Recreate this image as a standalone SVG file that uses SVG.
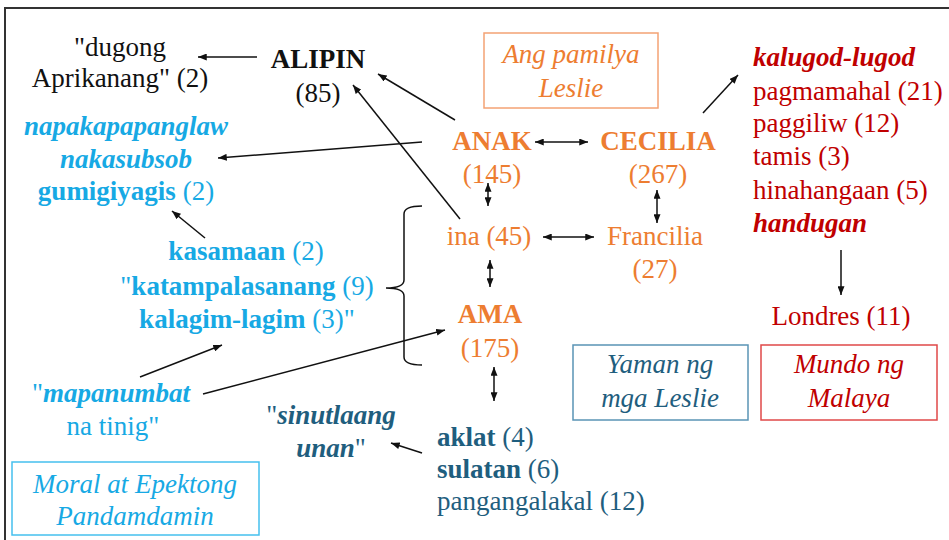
<svg xmlns="http://www.w3.org/2000/svg" width="949" height="540" viewBox="0 0 949 540">
<style>
text{font-family:'Liberation Serif',serif;font-size:27px}
.c{text-anchor:middle}
.w{font-weight:bold}
.it{font-style:italic}
.blk{fill:#111}
.cy{fill:#17A9E4}
.or{fill:#ED7D31}
.rd{fill:#C00000}
.tl{fill:#1F5E7E}
.con path{fill:none;stroke:#111;stroke-width:1.5}
.one{marker-end:url(#ah)}
.two{marker-end:url(#ah);marker-start:url(#ah)}
</style>
<defs>
<marker id="ah" viewBox="0 0 10 8" refX="10" refY="4" markerWidth="9" markerHeight="7" markerUnits="userSpaceOnUse" orient="auto-start-reverse">
<path d="M0,0 L10,4 L0,8 z" fill="#111"/>
</marker>
</defs>
<rect x="0" y="0" width="949" height="540" fill="#fff"/>
<rect x="5" y="8" width="980" height="600" fill="none" stroke="#333" stroke-width="2"/>

<g id="dugong">
<text class="c blk" x="120" y="56">"dugong</text>
<text class="c blk" x="120" y="87">Aprikanang" (2)</text>
</g>
<g id="alipin">
<text class="c w blk" x="318" y="68">ALIPIN</text>
<text class="c blk" x="318" y="102">(85)</text>
</g>
<g id="napakapapanglaw">
<text class="c w it cy" x="126" y="135">napakapapanglaw</text>
<text class="c w it cy" x="126" y="168">nakasubsob</text>
<text class="c cy" x="126" y="200"><tspan class="w">gumigiyagis</tspan> (2)</text>
</g>
<g id="kasamaan">
<text class="c cy" x="246" y="260"><tspan class="w">kasamaan</tspan> (2)</text>
<text class="c cy" x="247" y="295">"<tspan class="w">katampalasanang</tspan> (9)</text>
<text class="c cy" x="247" y="328"><tspan class="w">kalagim-lagim</tspan> (3)"</text>
</g>
<g id="mapanumbat">
<text class="c cy" x="111" y="402">"<tspan class="w it">mapanumbat</tspan></text>
<text class="c cy" x="113" y="435">na tinig"</text>
</g>
<g id="moral">
<rect x="12" y="462" width="247" height="73" fill="none" stroke="#45C0EE" stroke-width="1.5"/>
<text class="c it cy" x="135" y="493">Moral at Epektong</text>
<text class="c it cy" x="135" y="525">Pandamdamin</text>
</g>
<g id="sinutlaang">
<text class="c tl" x="331" y="424">"<tspan class="w it">sinutlaang</tspan></text>
<text class="c tl" x="331" y="457"><tspan class="w it">unan</tspan>"</text>
</g>
<g id="aklat">
<text class="tl" x="437" y="446"><tspan class="w">aklat</tspan> (4)</text>
<text class="tl" x="437" y="478"><tspan class="w">sulatan</tspan> (6)</text>
<text class="tl" x="437" y="510">pangangalakal (12)</text>
</g>
<g id="anak">
<text class="c w or" x="492" y="150">ANAK</text>
<text class="c or" x="492" y="183">(145)</text>
</g>
<g id="ina">
<text class="c or" x="489" y="245">ina (45)</text>
</g>
<g id="ama">
<text class="c w or" x="490" y="323">AMA</text>
<text class="c or" x="490" y="357">(175)</text>
</g>
<g id="cecilia">
<text class="c w or" x="658" y="150">CECILIA</text>
<text class="c or" x="658" y="183">(267)</text>
</g>
<g id="francilia">
<text class="c or" x="655" y="245">Francilia</text>
<text class="c or" x="655" y="278">(27)</text>
</g>
<g id="pamilya">
<rect x="484" y="33" width="174" height="75" fill="none" stroke="#F4A274" stroke-width="1.5"/>
<text class="c it or" x="571" y="63">Ang pamilya</text>
<text class="c it or" x="571" y="97">Leslie</text>
</g>
<g id="kalugod">
<text class="w it rd" x="753" y="66">kalugod-lugod</text>
<text class="rd" x="753" y="100">pagmamahal (21)</text>
<text class="rd" x="753" y="132">paggiliw (12)</text>
<text class="rd" x="753" y="165">tamis (3)</text>
<text class="rd" x="753" y="199">hinahangaan (5)</text>
<text class="w it rd" x="753" y="232">handugan</text>
</g>
<g id="londres">
<text class="c rd" x="841" y="325">Londres (11)</text>
</g>
<g id="yaman">
<rect x="573" y="345" width="175" height="75" fill="none" stroke="#5A94B5" stroke-width="1.5"/>
<text class="c it tl" x="660" y="373">Yaman ng</text>
<text class="c it tl" x="660" y="407">mga Leslie</text>
</g>
<g id="mundo">
<rect x="761" y="345" width="176" height="75" fill="none" stroke="#E04848" stroke-width="1.5"/>
<text class="c it rd" x="849" y="373">Mundo ng</text>
<text class="c it rd" x="849" y="407">Malaya</text>
</g>

<g id="connectors" class="con">
<path class="one" d="M257,57 L198,57"/>
<path class="one" d="M455,120 L378,74"/>
<path class="one" d="M460,219 L353,85"/>
<path class="one" d="M422,142 L218,158"/>
<path class="one" d="M205,238 L172,211"/>
<path class="two" d="M535,142 L588,142"/>
<path class="two" d="M488,183 L488,206"/>
<path class="two" d="M490,260 L490,287"/>
<path class="two" d="M543,237 L594,237"/>
<path class="two" d="M657,190 L657,223"/>
<path class="two" d="M494,367 L494,401"/>
<path class="one" d="M703,113 L738,75"/>
<path class="one" d="M841,250 L841,295"/>
<path class="one" d="M140,377 L222,345"/>
<path class="one" d="M203,394 L445,330"/>
<path class="one" d="M422,453 L391,443"/>
<path d="M422,206 Q404,206 404,214 L404,280 Q404,288 386,288 Q404,288 404,296 L404,357 Q404,365 422,365"/>
</g>
</svg>
